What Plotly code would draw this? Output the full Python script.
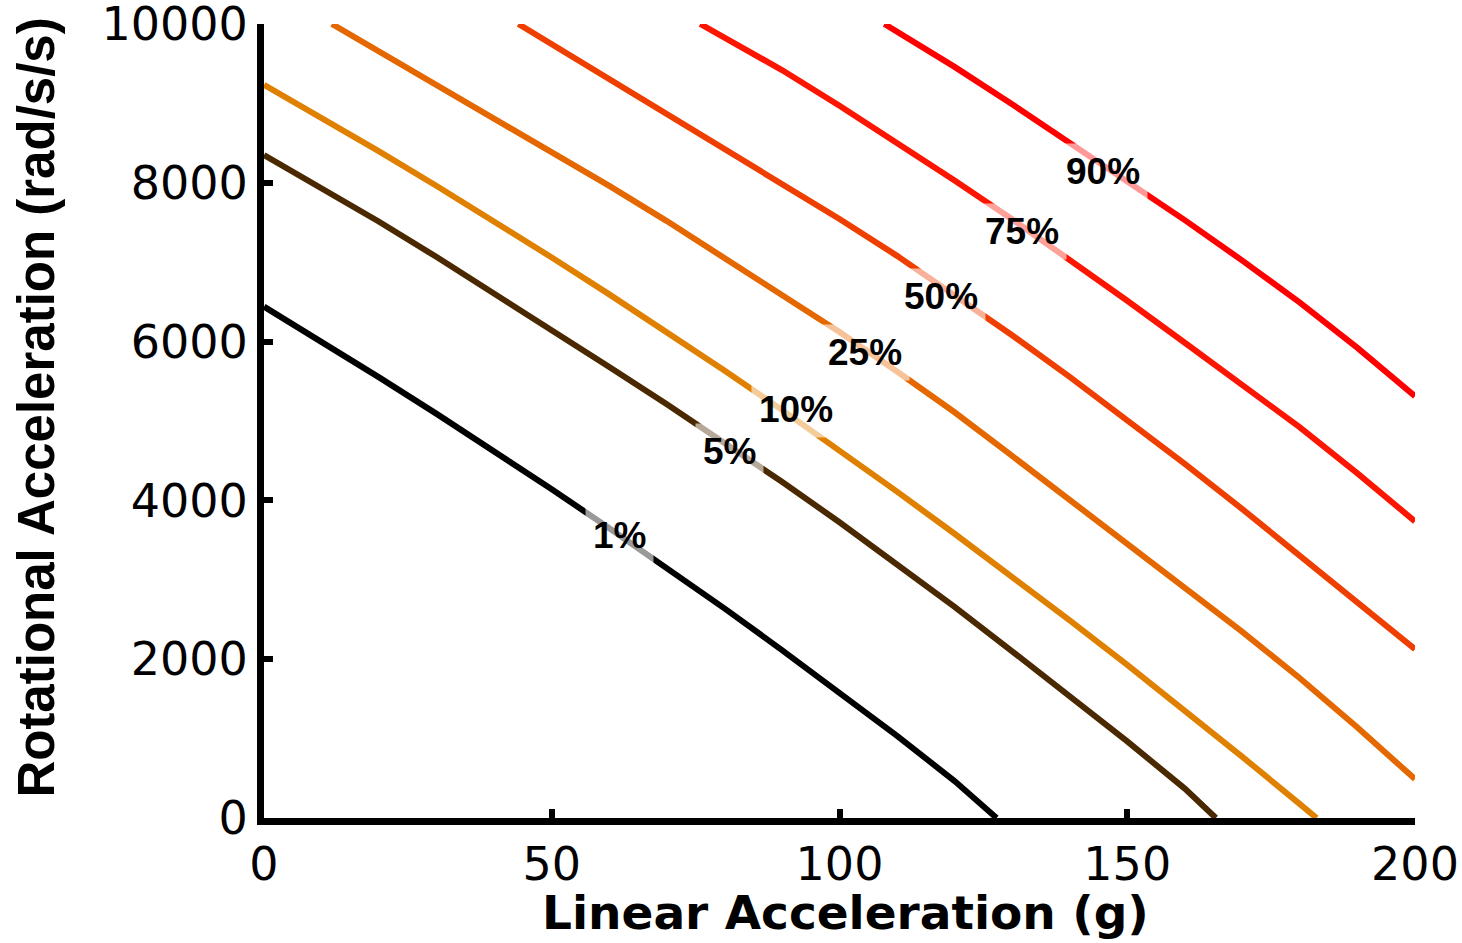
import plotly.graph_objects as go

# ---- data ----
x_1 = [0, 10, 20, 30, 40, 50, 60, 70, 80, 90, 100, 110, 120, 127.3]
y_1 = [6440, 6000, 5550, 5090, 4620, 4140, 3650, 3150, 2640, 2115, 1580, 1035, 465, 0]

x_5 = [0, 10, 20, 30, 40, 50, 60, 70, 80, 90, 100, 110, 120, 130, 140, 150, 160, 165.4]
y_5 = [8350, 7940, 7510, 7065, 6610, 6150, 5680, 5210, 4730, 4235, 3725, 3200, 2660, 2100, 1540, 965, 370, 0]

x_10 = [0, 10, 20, 30, 40, 50, 60, 70, 80, 90, 100, 110, 120, 130, 140, 150, 160, 170, 180, 182.9]
y_10 = [9233, 8818, 8395, 7960, 7515, 7060, 6595, 6120, 5635, 5140, 4630, 4110, 3580, 3040, 2490, 1930, 1355, 770, 175, 0]

x_25 = [11.8, 20, 30, 40, 50, 60, 70, 80, 90, 100, 110, 120, 130, 140, 150, 160, 170, 180, 190, 200]
y_25 = [10000, 9656, 9236, 8812, 8386, 7961, 7518, 7058, 6590, 6120, 5623, 5110, 4560, 4010, 3460, 2910, 2345, 1760, 1140, 490]

x_50 = [44.2, 50, 60, 70, 80, 90, 100, 110, 120, 130, 140, 150, 160, 170, 180, 190, 200]
y_50 = [10000, 9745, 9305, 8870, 8435, 7995, 7545, 7080, 6590, 6080, 5555, 5015, 4460, 3890, 3305, 2715, 2126]

x_75 = [75.8, 80, 90, 100, 110, 120, 130, 140, 150, 160, 170, 180, 190, 200]
y_75 = [10000, 9830, 9420, 8970, 8505, 8030, 7540, 7035, 6515, 5985, 5450, 4920, 4340, 3736]

x_90 = [107.8, 110, 120, 130, 140, 150, 160, 170, 180, 190, 200]
y_90 = [10000, 9905, 9460, 8990, 8510, 8025, 7530, 7020, 6490, 5920, 5312]

series_names = ["1%", "5%", "10%", "25%", "50%", "75%", "90%"]
series_x = [x_1, x_5, x_10, x_25, x_50, x_75, x_90]
series_y = [y_1, y_5, y_10, y_25, y_50, y_75, y_90]
series_colors = ["#000000", "#4a2800", "#e08000", "#e56700", "#ef3f00", "#fc1500", "#ff0000"]

label_x = [61.8, 80.8, 92.5, 104.4, 117.6, 131.7, 145.7]
label_y = [3560, 4616, 5145, 5862, 6566, 7384, 8138]

x_ticks = [0, 50, 100, 150, 200]
y_ticks = [0, 2000, 4000, 6000, 8000, 10000]

fig = go.Figure()
for name, xs, ys, col in zip(series_names, series_x, series_y, series_colors):
    fig.add_trace(go.Scatter(x=xs, y=ys, mode="lines", name=name,
                             line=dict(color=col, width=6), showlegend=False))

for name, lx, ly in zip(series_names, label_x, label_y):
    fig.add_annotation(x=lx, y=ly, text="<b>%s</b>" % name, showarrow=False,
                       font=dict(family="Liberation Sans, Arial, sans-serif", size=37, color="black"),
                       bgcolor="rgba(255,255,255,0.6)", borderpad=7)

fig.add_annotation(xref="paper", yref="paper", x=0.505, y=-0.1195,
                   text="<b>Linear Acceleration (g)</b>", showarrow=False,
                   font=dict(family="DejaVu Sans, sans-serif", size=47, color="black"),
                   xanchor="center", yanchor="middle")
fig.add_annotation(xref="paper", yref="paper", x=-0.198, y=0.517,
                   text="<b>Rotational Acceleration (rad/s/s)</b>", showarrow=False, textangle=-90,
                   font=dict(family="Liberation Sans, Arial, sans-serif", size=51, color="black"),
                   xanchor="center", yanchor="middle")

axis_common = dict(showgrid=False, zeroline=False, showline=True, linecolor="black", linewidth=7,
                   ticks="inside", ticklen=9, tickwidth=6, tickcolor="black",
                   ticklabeloverflow="allow", automargin=False,
                   tickfont=dict(family="DejaVu Sans, sans-serif", size=46, color="black"))

fig.update_xaxes(range=[0, 200], tickvals=x_ticks, ticktext=[str(v) for v in x_ticks], **axis_common)
fig.update_yaxes(range=[0, 10000], tickvals=y_ticks, ticktext=[str(v) for v in y_ticks], **axis_common)

fig.update_layout(width=1462, height=943, plot_bgcolor="white", paper_bgcolor="white",
                  margin=dict(l=264, r=47, t=24, b=125, autoexpand=False), showlegend=False)

fig.write_html("out.html", config={"displayModeBar": False},
               post_script="document.body.style.margin='0px';document.body.style.overflow='hidden';")
